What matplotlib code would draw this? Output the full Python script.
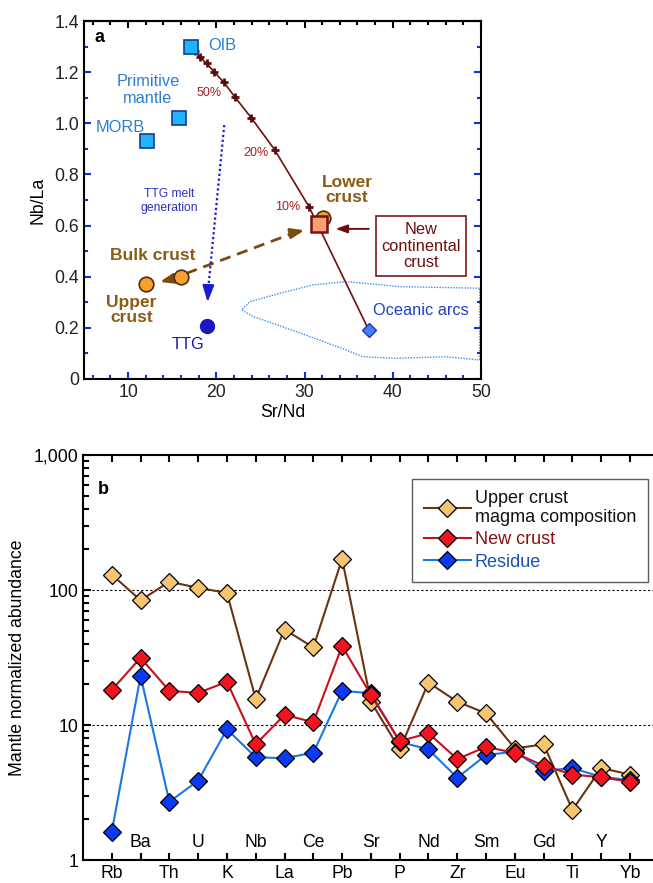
import matplotlib
matplotlib.use("Agg")
import matplotlib.pyplot as plt
import numpy as np
from matplotlib.ticker import MultipleLocator, LogLocator, NullFormatter
from matplotlib.transforms import blended_transform_factory

plt.rcParams["font.family"] = ["Liberation Sans", "DejaVu Sans"]

# ---- panel a data (Sr/Nd vs Nb/La) ----
oib = (17.1, 1.30)
prim_mantle = (15.8, 1.02)
morb = (12.2, 0.93)
lower_crust = (32.1, 0.628)
new_crust = (31.65, 0.606)
bulk_crust = (16.0, 0.398)
upper_crust = (12.0, 0.370)
ttg = (19.0, 0.207)
oceanic_arcs = (37.3, 0.19)

mix_x = [17.1, 17.57, 18.14, 18.89, 19.75, 20.86, 22.1, 23.95, 26.6, 30.5, 37.3]
mix_y = [1.30, 1.284, 1.258, 1.235, 1.201, 1.160, 1.103, 1.022, 0.897, 0.674, 0.19]
cross_x = mix_x[1:-1]
cross_y = mix_y[1:-1]

arc_field_x = [49.85, 40.8, 34.75, 30.97, 27.2, 23.8, 22.86, 24.2, 29.1, 34.75, 36.6, 40.4, 46.1, 49.85, 49.85]
arc_field_y = [0.355, 0.361, 0.381, 0.368, 0.335, 0.302, 0.270, 0.244, 0.185, 0.113, 0.087, 0.081, 0.087, 0.074, 0.355]

# ---- panel b data ----
elements = ["Rb", "Ba", "Th", "U", "K", "Nb", "La", "Ce", "Pb", "Sr",
            "P", "Nd", "Zr", "Sm", "Eu", "Gd", "Ti", "Y", "Yb"]
upper_magma = [130, 84, 115, 104, 95, 15.6, 51, 37.6, 170, 14.9,
               6.6, 20.6, 14.9, 12.2, 6.7, 7.2, 2.35, 4.8, 4.3]
new_crust_b = [18.2, 31.5, 17.9, 17.3, 20.9, 7.2, 11.9, 10.5, 38.5, 16.7,
               7.6, 8.7, 5.6, 6.9, 6.2, 5.0, 4.3, 4.1, 3.8]
residue = [1.62, 23.1, 2.7, 3.87, 9.3, 5.77, 5.68, 6.24, 17.9, 17.2,
           7.5, 6.6, 4.07, 6.0, 6.35, 4.6, 4.78, 4.14, 3.9]

TICK_BLUE = "#1030e0"
LABEL_BLUE = "#2a7fcf"
BROWN = "#8a5c14"
DARK_RED = "#6e0f0f"
TICK_FS = 12.7

fig = plt.figure(figsize=(6.53, 8.83), dpi=100)

# ================= panel a =================
ax = fig.add_axes([0.1286, 0.5708, 0.608, 0.4054])
ax.set_xlim(5, 50)
ax.set_ylim(0, 1.4)

ax.plot(arc_field_x, arc_field_y, color="#3a8ef0", lw=1.0, ls=(0, (1, 1)), zorder=1)

ax.plot(mix_x, mix_y, color=DARK_RED, lw=1.2, zorder=2)
ax.plot(cross_x, cross_y, ls="none", marker="+", ms=6, mew=2, color="#5a0a0a", zorder=3)

sq = dict(marker="s", ms=10, mfc="#1eb4ff", mec="#1a3a8a", mew=1.2, ls="none", zorder=4)
ax.plot(*oib, **sq)
ax.plot(*prim_mantle, **sq)
ax.plot(*morb, **sq)

circ = dict(marker="o", ms=10.5, mfc="#f7a030", mec="#4a300a", mew=1.2, ls="none", zorder=4)
ax.plot(*lower_crust, **circ)
ax.plot(*bulk_crust, **circ)
ax.plot(*upper_crust, **circ)
ax.plot(*new_crust, marker="s", ms=11, mfc="#f4a070", mec="#7a1010", mew=1.8, ls="none", zorder=5)

ax.plot(*ttg, marker="o", ms=10, mfc="#1818c0", mec="#1818c0", ls="none", zorder=4)
ax.plot(*oceanic_arcs, marker="D", ms=7, mfc="#4a7cff", mec="#1a3aa0", mew=1.0, ls="none", zorder=4)

# dashed brown arrows
ax.plot([bulk_crust[0] + 0.6, 29.0], [bulk_crust[1] + 0.015, 0.574], color="#7a4a10",
        lw=2, ls=(0, (4, 2.5)), zorder=3)
ax.annotate("", xy=(30.3, 0.584), xytext=(28.6, 0.571),
            arrowprops=dict(arrowstyle="-|>,head_length=0.8,head_width=0.3", color="#7a4a10", lw=2),
            zorder=3)
ax.annotate("", xy=(13.3, 0.377), xytext=(15.2, 0.393),
            arrowprops=dict(arrowstyle="-|>,head_length=0.8,head_width=0.3", color="#7a4a10", lw=2),
            zorder=3)

# TTG melt generation arrow
ax.plot([20.9, 19.1], [0.993, 0.36], color="#1a1ad0", lw=1.6, ls=(0, (1, 1.2)), zorder=3)
ax.annotate("", xy=(19.0, 0.29), xytext=(19.1, 0.37),
            arrowprops=dict(arrowstyle="-|>,head_length=1.0,head_width=0.35", color="#1a1ad0", lw=1.5),
            zorder=3)

# new continental crust label + arrow
ax.text(43.2, 0.52, "New\ncontinental\ncrust", color=DARK_RED, fontsize=11.8, ha="center",
        va="center", linespacing=1.15,
        bbox=dict(boxstyle="square,pad=0.33", fc="white", ec="#7a1a1a", lw=1.2))
ax.annotate("", xy=(33.2, 0.587), xytext=(37.6, 0.587),
            arrowprops=dict(arrowstyle="-|>,head_length=0.7,head_width=0.25", color=DARK_RED, lw=1.4))

ax.text(20.7, 1.306, "OIB", color=LABEL_BLUE, fontsize=11.8, ha="center", va="center")
ax.text(12.25, 1.13, "Primitive\nmantle", color=LABEL_BLUE, fontsize=11.8, ha="center",
        va="center", linespacing=1.15)
ax.text(9.1, 0.985, "MORB", color=LABEL_BLUE, fontsize=11.8, ha="center", va="center")
ax.text(19.15, 1.118, "50%", color="#a02020", fontsize=9, ha="center", va="center")
ax.text(24.5, 0.884, "20%", color="#a02020", fontsize=9, ha="center", va="center")
ax.text(28.1, 0.673, "10%", color="#a02020", fontsize=9, ha="center", va="center")
ax.text(34.8, 0.739, "Lower\ncrust", color=BROWN, fontsize=12.5, fontweight="bold",
        ha="center", va="center", linespacing=1.05)
ax.text(12.8, 0.481, "Bulk crust", color=BROWN, fontsize=12.5, fontweight="bold",
        ha="center", va="center")
ax.text(10.4, 0.27, "Upper\ncrust", color=BROWN, fontsize=12.5, fontweight="bold",
        ha="center", va="center", linespacing=1.05)
ax.text(16.8, 0.133, "TTG", color="#1a1aa0", fontsize=11.8, ha="center", va="center")
ax.text(14.7, 0.696, "TTG melt\ngeneration", color="#3030c0", fontsize=8.7, ha="center",
        va="center", linespacing=1.3)
ax.text(43.2, 0.266, "Oceanic arcs", color="#2040c0", fontsize=11.8, ha="center", va="center")
ax.text(0.04, 0.955, "a", transform=ax.transAxes, fontsize=13, fontweight="bold",
        ha="center", va="center")

ax.set_xticks([10, 20, 30, 40, 50])
ax.xaxis.set_minor_locator(MultipleLocator(2))
ax.set_yticks(np.arange(0, 1.41, 0.2))
ax.set_yticklabels(["0", "0.2", "0.4", "0.6", "0.8", "1.0", "1.2", "1.4"])
ax.yaxis.set_minor_locator(MultipleLocator(0.1))
ax.tick_params(axis="both", which="both", direction="in", colors=TICK_BLUE, labelcolor="#222222",
               labelsize=TICK_FS, width=1.5)
ax.tick_params(axis="y", which="both", right=True)
ax.tick_params(which="major", length=5)
ax.tick_params(which="minor", length=3)
top = ax.secondary_xaxis("top")
top.set_xticks([10, 20, 30, 40, 50])
top.xaxis.set_minor_locator(MultipleLocator(2))
top.tick_params(which="both", direction="in", width=1.5, labeltop=False, color="black")
top.tick_params(which="major", length=5)
top.tick_params(which="minor", length=3)
top.spines["top"].set_linewidth(1.5)
for s in ax.spines.values():
    s.set_linewidth(1.5)
ax.set_xlabel("Sr/Nd", fontsize=12.7, labelpad=2)
ax.set_ylabel("Nb/La", fontsize=12.7, labelpad=6)

# ================= panel b =================
bx = fig.add_axes([0.1271, 0.026, 0.873, 0.4587])
xpos = np.arange(len(elements))
bx.set_yscale("log")
bx.set_ylim(1, 1000)
bx.set_xlim(-1, 18.8)

for yv in (10, 100):
    bx.axhline(yv, color="black", lw=0.8, ls=(0, (2, 2)), zorder=1)

l1, = bx.plot(xpos, upper_magma, color="#6b3410", lw=1.5, marker="D", ms=9,
              mfc="#f7c470", mec="black", mew=0.9, zorder=3)
l3, = bx.plot(xpos, residue, color="#1a78e0", lw=1.5, marker="D", ms=9,
              mfc="#0a3af5", mec="black", mew=0.9, zorder=4)
l2, = bx.plot(xpos, new_crust_b, color="#c8101a", lw=1.5, marker="D", ms=9,
              mfc="#f0141e", mec="black", mew=0.9, zorder=5)

leg = bx.legend([l1, l2, l3], ["Upper crust\nmagma composition", "New crust", "Residue"],
                loc="upper right", bbox_to_anchor=(1.0, 0.955), fontsize=13, frameon=True,
                fancybox=False, handlelength=2.6, handletextpad=0.2, borderpad=0.65,
                labelspacing=0.3, numpoints=1, borderaxespad=0.3)
leg.get_frame().set_edgecolor("#333333")
leg.get_frame().set_linewidth(1.0)
for txt, c in zip(leg.get_texts(), ["#111111", "#8b1010", "#1a50b0"]):
    txt.set_color(c)
    txt.set_linespacing(1.1)

bx.set_xticks(xpos)
bx.set_xticklabels([e if i % 2 == 0 else "" for i, e in enumerate(elements)])
trans = blended_transform_factory(bx.transData, bx.transAxes)
for i, e in enumerate(elements):
    if i % 2 == 1:
        bx.text(i, 0.043, e, transform=trans, ha="center", va="center", fontsize=TICK_FS)

bx.set_yticks([1, 10, 100, 1000])
bx.set_yticklabels(["1", "10", "100", "1,000"])
bx.yaxis.set_minor_locator(LogLocator(base=10, subs=np.arange(2, 10)))
bx.yaxis.set_minor_formatter(NullFormatter())
bx.tick_params(axis="both", which="both", direction="in", labelsize=TICK_FS, width=1.5)
bx.tick_params(axis="x", top=True, length=5)
bx.tick_params(axis="y", which="major", length=6)
bx.tick_params(axis="y", which="minor", length=4)
for s in bx.spines.values():
    s.set_linewidth(1.5)
bx.spines["right"].set_visible(False)
bx.set_ylabel("Mantle normalized abundance", fontsize=12.7, labelpad=5)
bx.text(0.035, 0.914, "b", transform=bx.transAxes, fontsize=13, fontweight="bold",
        ha="center", va="center")

fig.savefig("out.png", dpi=100)
